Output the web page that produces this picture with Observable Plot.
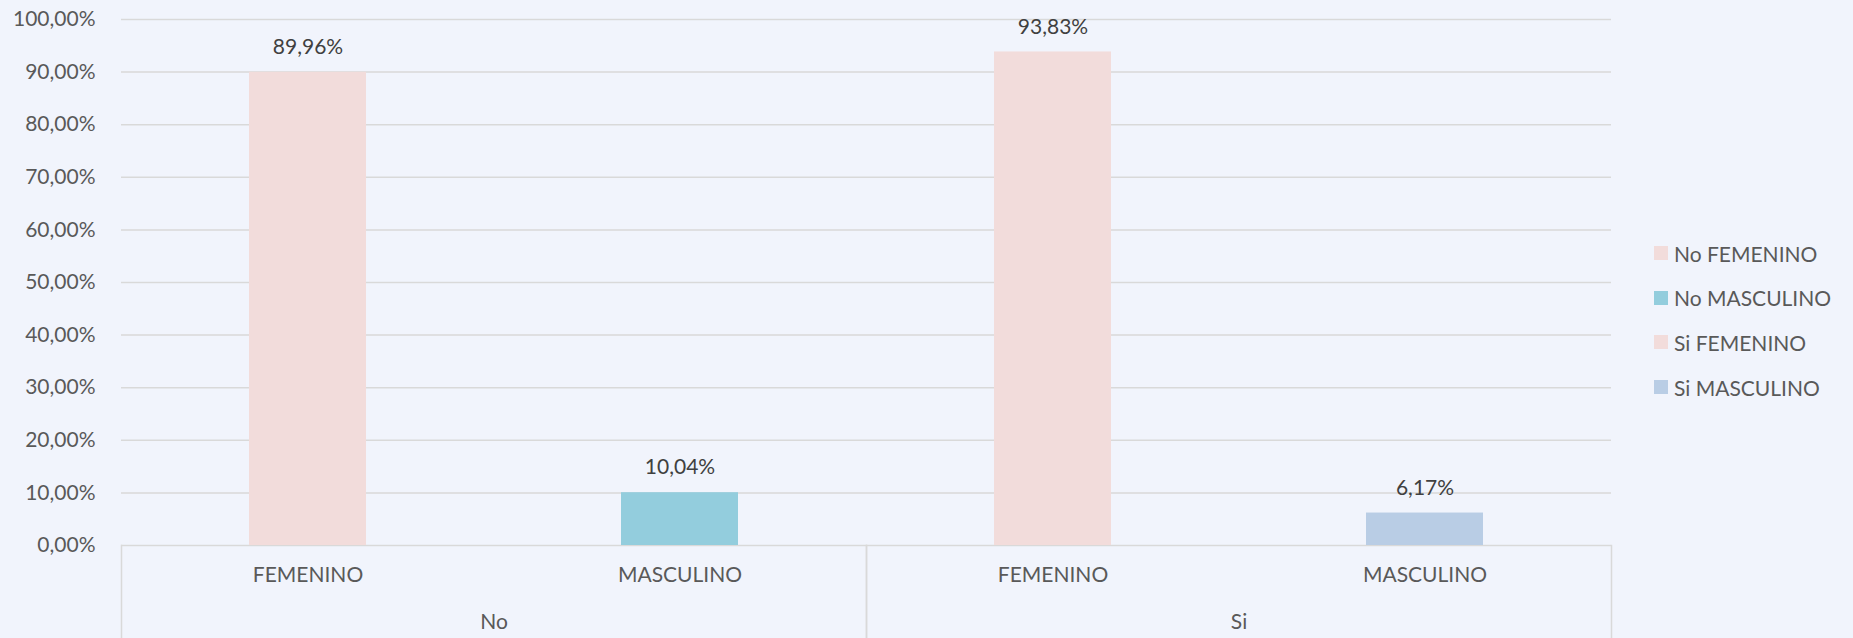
<!DOCTYPE html>
<html>
<head>
<meta charset="utf-8">
<script src="https://cdn.jsdelivr.net/npm/d3@7"></script>
<script src="https://cdn.jsdelivr.net/npm/@observablehq/plot@0.6"></script>
<style>
  html, body { margin: 0; padding: 0; background: #f1f4fc; }
  #wrap { position: relative; width: 1853px; height: 638px; overflow: hidden; font-family: Lato, "Open Sans", sans-serif; }
  #legend { position: absolute; left: 1654px; top: 231px; }
  .item { display: flex; align-items: center; height: 44.6px; font-size: 21px; color: #595959; }
  .sw { width: 14px; height: 14px; margin-right: 6px; flex: none; }
</style>
</head>
<body>
<div id="wrap"><div id="chart"></div><div id="legend"></div></div>
<script>
// ---- data ----
const groups = ["No", "No", "Si", "Si"];
const sexes = ["FEMENINO", "MASCULINO", "FEMENINO", "MASCULINO"];
const values = [89.96, 10.04, 93.83, 6.17];
const seriesNames = ["No FEMENINO", "No MASCULINO", "Si FEMENINO", "Si MASCULINO"];
const seriesColors = ["#f2dcdb", "#93cddd", "#f2dcdb", "#b9cde5"];
const groupLabels = ["No", "Si"];
const sexLabels = ["FEMENINO", "MASCULINO"];
const yTicks = [0, 10, 20, 30, 40, 50, 60, 70, 80, 90, 100];

const data = values.map((v, i) => ({key: seriesNames[i], group: groups[i], sex: sexes[i], value: v}));

const fmt = d3.formatLocale({decimal: ",", thousands: ".", grouping: [3], currency: ["", "€"]}).format(".2f");
const pct = d => fmt(d) + "%";

const W = 1853, H = 638, MT = 19, MB = 93, ML = 121, MR = 242;
const innerH = H - MT - MB;
const gridColor = "#d9d9d9";

const plot = Plot.plot({
  width: W, height: H,
  marginTop: MT, marginBottom: MB, marginLeft: ML, marginRight: MR,
  style: {background: "transparent", fontFamily: "Lato, 'Open Sans', sans-serif", fontSize: "21px", color: "#595959"},
  fx: {domain: groupLabels, padding: 0},
  x: {domain: sexLabels, paddingInner: 0.686, paddingOuter: 0.343},
  y: {domain: [0, 100]},
  color: {domain: seriesNames, range: seriesColors},
  marks: [
    Plot.gridY(yTicks, {stroke: gridColor, strokeOpacity: 1, strokeWidth: 1.5}),
    Plot.frame({anchor: "left", stroke: gridColor, strokeWidth: 1.5, insetTop: innerH, insetBottom: -MB}),
    Plot.frame({anchor: "right", stroke: gridColor, strokeWidth: 1.5, insetTop: innerH, insetBottom: -MB}),
    Plot.barY(data, {fx: "group", x: "sex", y: "value", fill: "key"}),
    Plot.text(data, {fx: "group", x: "sex", y: "value", text: d => pct(d.value), dy: -25, fill: "#404040", fontSize: 21}),
    Plot.axisY(yTicks, {tickSize: 0, tickPadding: 26, tickFormat: pct, label: null}),
    Plot.axisX({tickSize: 0, tickPadding: 22, label: null}),
    Plot.axisFx({anchor: "bottom", tickSize: 0, tickPadding: 69, label: null})
  ]
});
document.getElementById("chart").appendChild(plot);

const legend = document.getElementById("legend");
seriesNames.forEach((name, i) => {
  const item = document.createElement("div");
  item.className = "item";
  const sw = document.createElement("span");
  sw.className = "sw";
  sw.style.background = seriesColors[i];
  const t = document.createElement("span");
  t.textContent = name;
  item.appendChild(sw);
  item.appendChild(t);
  legend.appendChild(item);
});
</script>
</body>
</html>
